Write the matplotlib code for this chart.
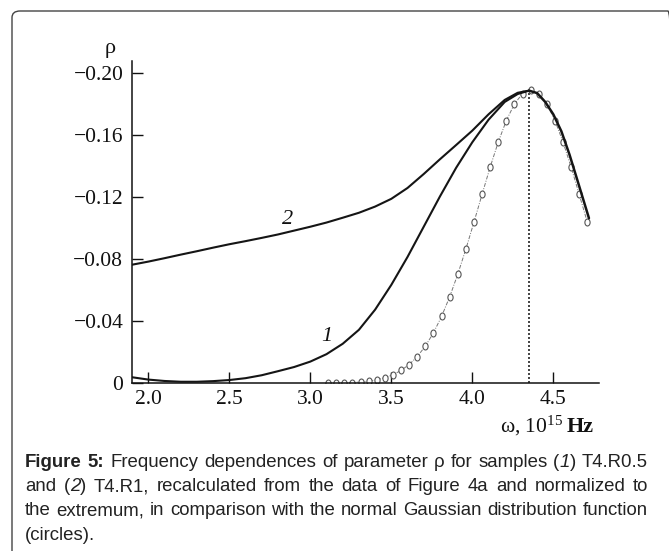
import matplotlib
matplotlib.use('Agg')
import matplotlib.pyplot as plt
from matplotlib.patches import FancyBboxPatch
from matplotlib.markers import MarkerStyle
from matplotlib.transforms import Affine2D

plt.rcParams['font.family'] = ['Liberation Serif', 'DejaVu Serif']
plt.rcParams['mathtext.fontset'] = 'custom'
plt.rcParams['mathtext.rm'] = 'Liberation Serif'
plt.rcParams['mathtext.it'] = 'Liberation Serif:italic'
plt.rcParams['mathtext.bf'] = 'Liberation Serif:bold'

# ---------------- data ----------------
curve1_x = [1.90, 2.00, 2.10, 2.20, 2.30, 2.40, 2.50, 2.60, 2.70, 2.80, 2.90, 3.00, 3.10,
            3.20, 3.30, 3.40, 3.50, 3.60, 3.70, 3.80, 3.90, 4.00, 4.10, 4.20, 4.28, 4.35]
curve1_y = [-0.0039, -0.0024, -0.0015, -0.0010, -0.0010, -0.0014, -0.0021, -0.0033, -0.0052,
            -0.0078, -0.0105, -0.0140, -0.0188, -0.0255, -0.0345, -0.0475, -0.0635, -0.0815,
            -0.1010, -0.1205, -0.1390, -0.1555, -0.1700, -0.1815, -0.1866, -0.1888]

curve2_x = [1.90, 2.00, 2.10, 2.20, 2.30, 2.40, 2.50, 2.60, 2.70, 2.80, 2.90, 3.00, 3.10,
            3.20, 3.30, 3.40, 3.50, 3.60, 3.70, 3.80, 3.90, 4.00, 4.10, 4.20, 4.28, 4.35]
curve2_y = [-0.0765, -0.0785, -0.0807, -0.0830, -0.0852, -0.0875, -0.0897, -0.0917, -0.0938,
            -0.0960, -0.0985, -0.1010, -0.1037, -0.1068, -0.1100, -0.1140, -0.1190, -0.1260,
            -0.1350, -0.1445, -0.1537, -0.1630, -0.1735, -0.1828, -0.1874, -0.1888]

# common descending branch of both curves
tail_x = [4.35, 4.40, 4.45, 4.50, 4.55, 4.60, 4.65, 4.72]
tail_y = [-0.1888, -0.1872, -0.1815, -0.1735, -0.1625, -0.1475, -0.1305, -0.1065]

# Gaussian (circles)
gauss_x = [3.11, 3.16, 3.21, 3.26, 3.31, 3.36, 3.41, 3.46, 3.51, 3.56, 3.61, 3.66, 3.71,
           3.76, 3.81, 3.86, 3.91, 3.96, 4.01, 4.06, 4.11, 4.16, 4.21, 4.26, 4.31, 4.36,
           4.41, 4.46, 4.51, 4.56, 4.61, 4.66, 4.71]
gauss_y = [-0.0001, -0.0002, -0.0003, -0.0005, -0.0009, -0.0014, -0.0023, -0.0036, -0.0055,
           -0.0083, -0.0121, -0.0172, -0.0240, -0.0325, -0.0431, -0.0557, -0.0703, -0.0865,
           -0.1039, -0.1218, -0.1394, -0.1556, -0.1695, -0.1802, -0.1869, -0.1892,
           -0.1869, -0.1802, -0.1695, -0.1556, -0.1394, -0.1218, -0.1039]

peak_x = 4.352
peak_y = -0.1888

x_ticks = [2.0, 2.5, 3.0, 3.5, 4.0, 4.5]
x_tick_labels = ['2.0', '2.5', '3.0', '3.5', '4.0', '4.5']
y_ticks = [0, -0.04, -0.08, -0.12, -0.16, -0.20]
y_tick_labels = ['0', '\u22120.04', '\u22120.08', '\u22120.12', '\u22120.16', '\u22120.20']

curve_labels = ['1', '2']
curve_label_pos = [(3.10, -0.030), (2.86, -0.1054)]

caption_lines = [
    [[("Figure", "bold", "normal")], [("5:", "bold", "normal")], [("Frequency", "normal", "normal")],
     [("dependences", "normal", "normal")], [("of", "normal", "normal")], [("parameter", "normal", "normal")],
     [("\u03c1", "normal", "normal")], [("for", "normal", "normal")], [("samples", "normal", "normal")],
     [("(", "normal", "normal"), ("1", "normal", "italic"), (")", "normal", "normal")],
     [("T4.R0.5", "normal", "normal")]],
    [[("and", "normal", "normal")],
     [("(", "normal", "normal"), ("2", "normal", "italic"), (")", "normal", "normal")],
     [("T4.R1,", "normal", "normal")], [("recalculated", "normal", "normal")], [("from", "normal", "normal")],
     [("the", "normal", "normal")], [("data", "normal", "normal")], [("of", "normal", "normal")],
     [("Figure", "normal", "normal")], [("4a", "normal", "normal")], [("and", "normal", "normal")],
     [("normalized", "normal", "normal")], [("to", "normal", "normal")]],
    [[(w, "normal", "normal")] for w in
     "the extremum, in comparison with the normal Gaussian distribution function".split()],
    [[("(circles).", "normal", "normal")]],
]

# ---------------- figure ----------------
W, H = 669, 551
fig = plt.figure(figsize=(W / 100, H / 100), dpi=100)


def fx(px):
    return px / W


def fy(py):
    return 1 - py / H


# rounded border (right and bottom sides run off the image)
box = FancyBboxPatch((fx(12), fy(575)), fx(676) - fx(12), fy(11) - fy(575),
                     boxstyle="round,pad=0,rounding_size=0.012", transform=fig.transFigure,
                     fill=False, edgecolor='#444444', linewidth=1.0, clip_on=False)
fig.patches.append(box)

ax = fig.add_axes([fx(131.7), fy(383.3), fx(599) - fx(131.7), fy(60.7) - fy(383.3)])
ax.patch.set_alpha(0)

ell = MarkerStyle('o', transform=Affine2D().scale(0.75, 1.0))
ax.plot(gauss_x, gauss_y, color='#777777', lw=0.7, ls=(0, (4, 1.5, 1, 1.5)),
        marker=ell, ms=5.0, mfc='white', mec='#555555', mew=0.8, zorder=2)
ax.plot(curve2_x, curve2_y, color='#151515', lw=1.5, zorder=3, solid_capstyle='round',
        solid_joinstyle='round')
ax.plot(curve1_x, curve1_y, color='#151515', lw=1.5, zorder=3, solid_capstyle='round',
        solid_joinstyle='round')
ax.plot(tail_x, tail_y, color='#151515', lw=1.8, zorder=3, solid_capstyle='round',
        solid_joinstyle='round')
ax.vlines(peak_x, 0, peak_y, colors='#222222', linestyles=(0, (1.2, 1.2)), lw=1.2, zorder=1)

for lab, (lx, ly) in zip(curve_labels, curve_label_pos):
    ax.text(lx, ly, lab, fontsize=16, style='italic', ha='center', va='center', color='#111111')

ax.set_xlim(1.8975, 4.782)
ax.set_ylim(0, -0.2081)
for s in ['top', 'right']:
    ax.spines[s].set_visible(False)
for s in ['left', 'bottom']:
    ax.spines[s].set_linewidth(1.1)
    ax.spines[s].set_color('#111111')

ax.set_xticks(x_ticks)
ax.set_xticklabels(x_tick_labels)
ax.set_yticks(y_ticks)
ax.set_yticklabels(y_tick_labels)
ax.tick_params(direction='in', length=8, width=1.0, labelsize=15.5, colors='#111111')
ax.tick_params(axis='x', pad=5)
ax.tick_params(axis='y', pad=6)

fig.text(fx(110), fy(48), '\u03c1', fontsize=16, ha='center', va='center', color='#111111')
fig.text(fx(563), fy(432), '\u03c9, 10$^{15}$', fontsize=15.5, ha='right', va='baseline', color='#111111')
fig.text(fx(567), fy(432), 'Hz', fontsize=16, fontweight='bold', ha='left', va='baseline', color='#111111')

# ---------------- caption (justified) ----------------
cap_family = ['Liberation Sans', 'DejaVu Sans']
cap_size = 13.4
renderer = fig.canvas.get_renderer()


def seg_width(txt, weight, style):
    t = fig.text(0, 0, txt, fontsize=cap_size, family=cap_family, fontweight=weight, fontstyle=style)
    w = t.get_window_extent(renderer).width
    t.remove()
    return w


space_w = seg_width("a b", "normal", "normal") - seg_width("ab", "normal", "normal")
x_left, x_right = 25.0, 648.0
line_y = [467, 491, 515, 540]
for i, (words, yy) in enumerate(zip(caption_lines, line_y)):
    widths = [[seg_width(*seg) for seg in word] for word in words]
    word_w = [sum(ws) for ws in widths]
    last = (i == len(caption_lines) - 1)
    if not last and len(words) > 1:
        gap = (x_right - x_left - sum(word_w)) / (len(words) - 1)
    else:
        gap = space_w
    x = x_left
    for word, ws in zip(words, widths):
        xs = x
        for (txt, weight, style), w in zip(word, ws):
            fig.text(fx(xs), fy(yy), txt, fontsize=cap_size, family=cap_family, fontweight=weight,
                     fontstyle=style, ha='left', va='baseline', color='#222222')
            xs += w
        x += sum(ws) + gap

fig.savefig('out.png', dpi=100)
